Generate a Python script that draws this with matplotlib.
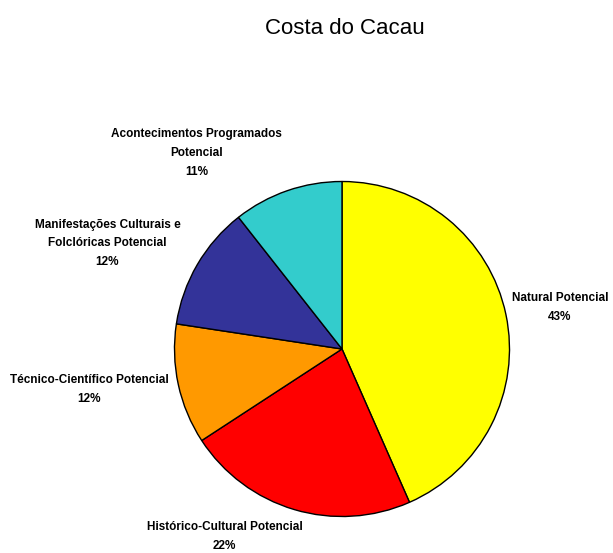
import matplotlib.pyplot as plt
import numpy as np

title = 'Costa do Cacau'
categories = ['Natural Potencial', 'Histórico-Cultural Potencial',
              'Técnico-Científico Potencial',
              'Manifestações Culturais e\nFolclóricas Potencial',
              'Acontecimentos Programados\nPotencial']
values = [43.4, 22.4, 11.6, 12.0, 10.6]
pct_labels = ['43%', '22%', '12%', '12%', '11%']
colors = ['#FFFF00', '#FF0000', '#FF9900', '#333399', '#33CCCC']

# label positions in data units (pie radius = 1)
label_pos = [(1.30, 0.25), (-0.70, -1.12), (-1.51, -0.24),
             (-1.40, 0.63), (-0.87, 1.17)]

plt.rcParams['font.family'] = ['Liberation Sans', 'DejaVu Sans']

W, H = 613, 553
fig = plt.figure(figsize=(W / 100, H / 100), dpi=100)
cx, cy, r = 342, 349, 167.5
ax = fig.add_axes([(cx - r) / W, (H - cy - r) / H, 2 * r / W, 2 * r / H])

ax.pie(values, colors=colors, startangle=90, counterclock=False,
       wedgeprops={'edgecolor': 'black', 'linewidth': 1.0})
ax.set_xlim(-1, 1)
ax.set_ylim(-1, 1)
ax.set_aspect('equal')

for cat, p, (lx, ly) in zip(categories, pct_labels, label_pos):
    ax.text(lx, ly, f'{cat}\n{p}', ha='center', va='center',
            fontsize=8.5, fontweight='bold', linespacing=1.75,
            clip_on=False)

fig.text(345 / W, 1 - 28 / H, title, ha='center', va='center', fontsize=16)

fig.savefig('out.png', dpi=100)
